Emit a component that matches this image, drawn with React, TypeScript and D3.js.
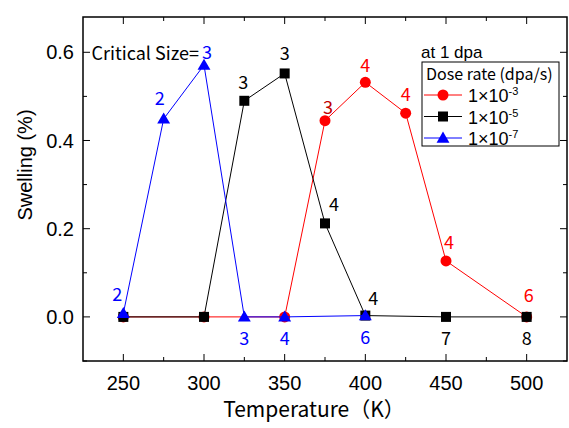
import React from 'react';
import * as d3 from 'd3';

// dose rate 1e-3 dpa/s
const redTemps = [250, 300, 350, 375, 400, 425, 450, 500];
const redSwelling = [0, 0, 0, 0.445, 0.532, 0.462, 0.127, 0];
const redSizes = ['', '', '', '3', '4', '4', '4', '6'];

// dose rate 1e-5 dpa/s
const blackTemps = [250, 300, 325, 350, 375, 400, 450, 500];
const blackSwelling = [0, 0, 0.49, 0.552, 0.212, 0.003, 0, 0];
const blackSizes = ['', '', '3', '3', '4', '4', '7', '8'];

// dose rate 1e-7 dpa/s
const blueTemps = [250, 275, 300, 325, 350, 400];
const blueSwelling = [0.008, 0.449, 0.571, 0, 0, 0.003];
const blueSizes = ['2', '2', '3', '3', '4', '6'];

const xTicks = [250, 300, 350, 400, 450, 500];
const yTicks = [0, 0.2, 0.4, 0.6];
const legendExps = ['-3', '-5', '-7'];

const width = 569;
const height = 428;
const plot = { left: 83, right: 567, top: 17, bottom: 361 };

// label offsets [dx, dy] from each point
const redOff = [[0, 0], [0, 0], [0, 0], [3, -15], [0, -18], [0, -20], [3, -20], [2, -23]];
const blackOff = [[0, 0], [0, 0], [-1, -20], [0, -21], [9, -20], [8, -19], [0, 20], [0, 20]];
const blueOff = [[-6, -20], [-4, -22], [3, -14], [0, 20], [0, 20], [0, 20]];

const jp = '"Noto Sans CJK JP", "Noto Sans", sans-serif';
const arial = '"Liberation Sans", Arial, sans-serif';

export default function App() {
  const x = d3.scaleLinear().domain([225, 525]).range([plot.left, plot.right]);
  const y = d3.scaleLinear().domain([-0.1, 0.68]).range([plot.bottom, plot.top]);
  const line = d3.line<[number, number]>().x(d => x(d[0])).y(d => y(d[1]));

  const series = [
    { temps: redTemps, vals: redSwelling, sizes: redSizes, off: redOff, color: '#ff0000', shape: 'circle' },
    { temps: blackTemps, vals: blackSwelling, sizes: blackSizes, off: blackOff, color: '#000000', shape: 'square' },
    { temps: blueTemps, vals: blueSwelling, sizes: blueSizes, off: blueOff, color: '#0000ff', shape: 'triangle' },
  ];

  const marker = (shape: string, cx: number, cy: number, color: string, key?: any) => {
    if (shape === 'circle') return <circle key={key} cx={cx} cy={cy} r={5.5} fill={color} />;
    if (shape === 'square') return <rect key={key} x={cx - 5} y={cy - 5} width={10} height={10} fill={color} />;
    const tri = d3.symbol(d3.symbolTriangle, 72)();
    return <path key={key} d={tri || ''} transform={`translate(${cx},${cy + 1})`} fill={color} />;
  };

  const minorX = d3.range(250, 525, 25);
  const minorY = d3.range(-0.1, 0.68, 0.1);

  return (
    <svg width={width} height={height} style={{ position: 'absolute', left: 0, top: 0, background: '#fff' }}>
      {/* ticks */}
      {minorX.map(t => {
        const len = xTicks.includes(t) ? 7 : 4;
        return (
          <g key={'xt' + t} stroke="#000" strokeWidth={1}>
            <line x1={x(t)} x2={x(t)} y1={plot.bottom} y2={plot.bottom - len} />
            <line x1={x(t)} x2={x(t)} y1={plot.top} y2={plot.top + len} />
          </g>
        );
      })}
      {minorY.map((v, i) => {
        const len = i % 2 === 1 ? 7 : 4;
        return (
          <g key={'yt' + i} stroke="#000" strokeWidth={1}>
            <line x1={plot.left} x2={plot.left + len} y1={y(v)} y2={y(v)} />
            <line x1={plot.right} x2={plot.right - len} y1={y(v)} y2={y(v)} />
          </g>
        );
      })}
      <rect x={plot.left} y={plot.top} width={plot.right - plot.left} height={plot.bottom - plot.top}
        fill="none" stroke="#000" strokeWidth={1.5} />

      {xTicks.map(t => (
        <text key={'xl' + t} x={x(t)} y={plot.bottom + 29} textAnchor="middle" fontFamily={arial} fontSize={20}>{t}</text>
      ))}
      {yTicks.map(v => (
        <text key={'yl' + v} x={plot.left - 9} y={y(v)} dy="0.36em" textAnchor="end" fontFamily={arial} fontSize={20}>{v.toFixed(1)}</text>
      ))}
      <text x={314} y={417} textAnchor="middle" fontFamily={jp} fontSize={21}>Temperature（K）</text>
      <text transform="translate(32,165) rotate(-90)" textAnchor="middle"
        fontFamily={arial} fontSize={20}>Swelling (%)</text>

      {/* series */}
      {series.map((s, si) => {
        const pts = s.temps.map((t, i) => [t, s.vals[i]] as [number, number]);
        return (
          <g key={'s' + si}>
            <path d={line(pts) || ''} fill="none" stroke={s.color} strokeWidth={1} />
            {pts.map((p, i) => marker(s.shape, x(p[0]), y(p[1]), s.color, i))}
          </g>
        );
      })}
      {series.map((s, si) => (
        <g key={'l' + si}>
          {s.sizes.map((lab, i) => lab ? (
            <text key={i} x={x(s.temps[i]) + s.off[i][0]} y={y(s.vals[i]) + s.off[i][1]} dominantBaseline="central"
              textAnchor="middle" fontFamily={jp} fontSize={18} fill={si === 0 && i === 3 ? '#c00000' : s.color}>{lab}</text>
          ) : null)}
        </g>
      ))}
      <text x={199} y={52} dominantBaseline="central" textAnchor="end" fontFamily={jp} fontSize={18}>Critical Size=</text>

      {/* legend */}
      <text x={421} y={57.5} fontFamily={arial} fontSize={17}>at 1 dpa</text>
      <rect x={422} y={62} width={137} height={84} fill="#fff" stroke="#000" strokeWidth={1} />
      <text x={426} y={80} fontFamily={jp} fontSize={16}>Dose rate (dpa/s)</text>
      {series.map((s, i) => {
        const ly = 95 + i * 21.5;
        return (
          <g key={'lg' + i}>
            <line x1={424} x2={462} y1={ly} y2={ly} stroke={s.color} strokeWidth={1} />
            {marker(s.shape, 443, ly, s.color)}
            <text x={468} y={ly + 7} fontFamily={arial} fontSize={18}>
              1×10<tspan dy={-7} fontSize={11}>{legendExps[i]}</tspan>
            </text>
          </g>
        );
      })}
    </svg>
  );
}
